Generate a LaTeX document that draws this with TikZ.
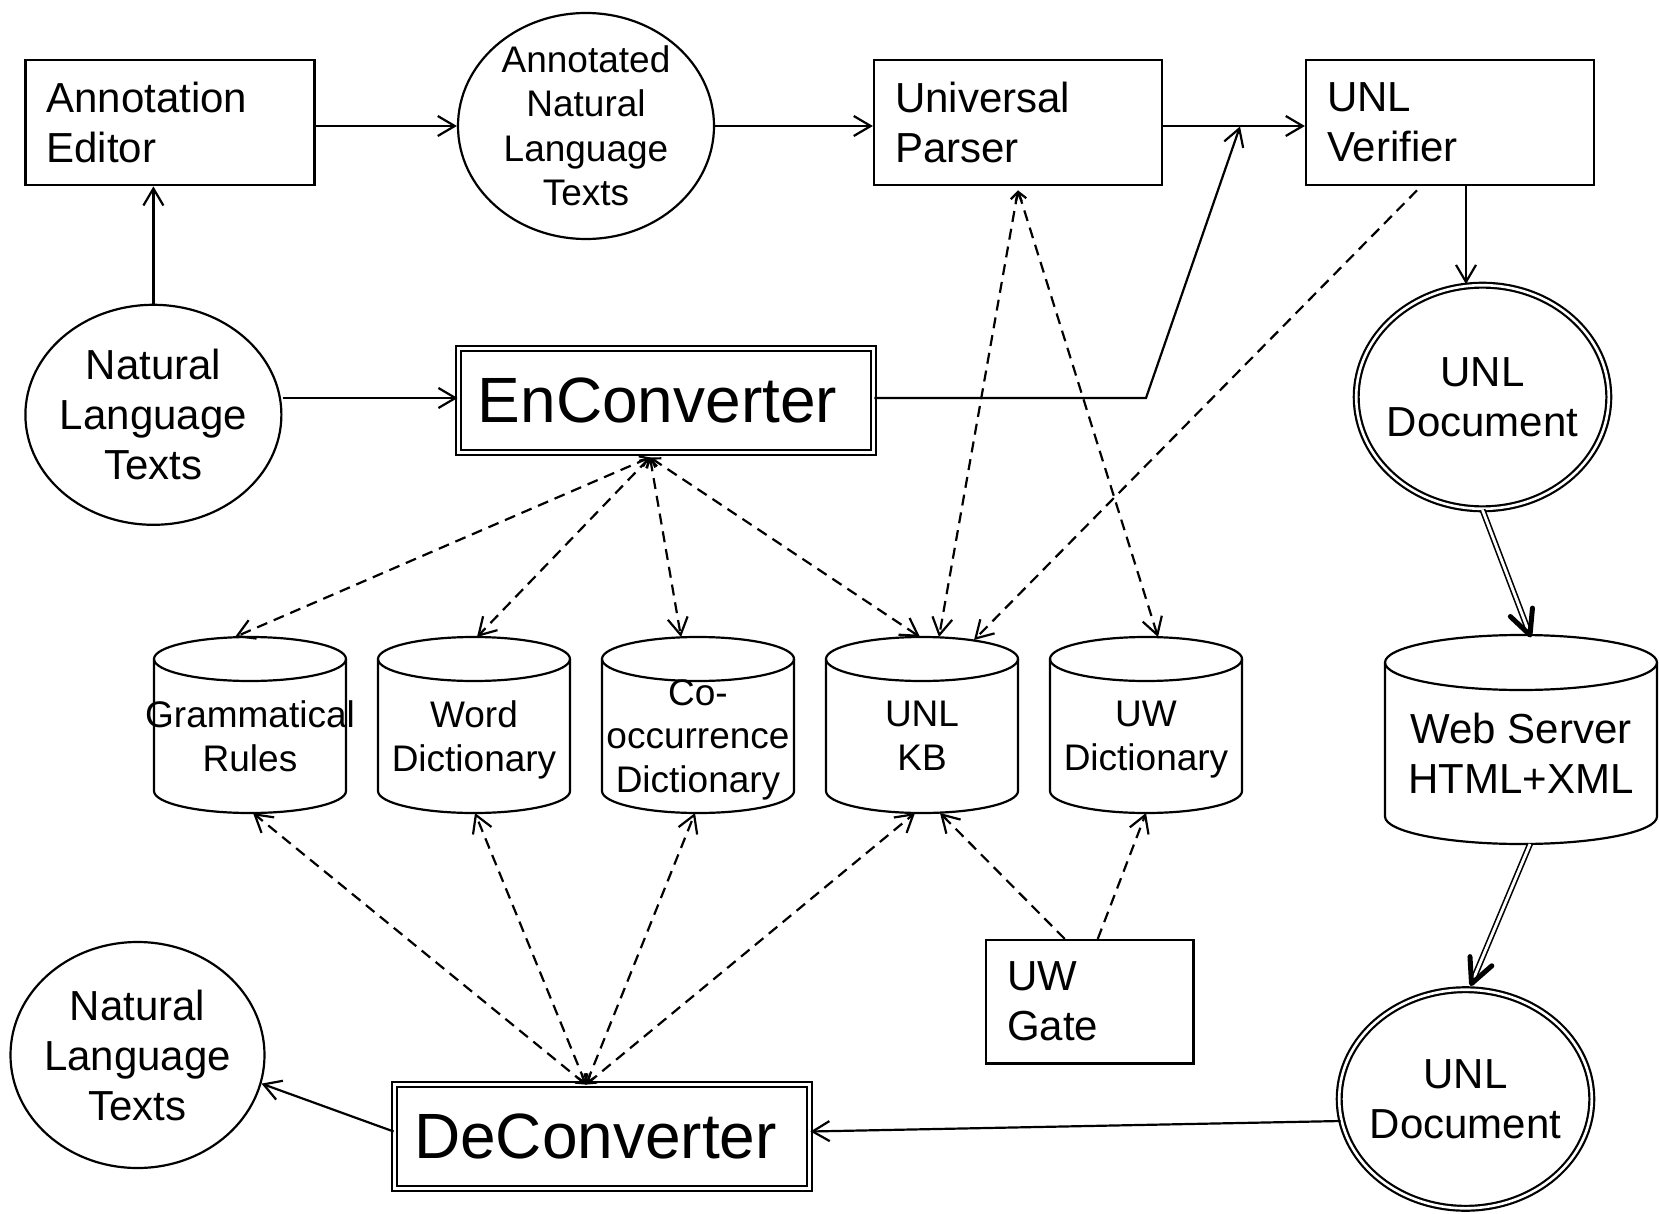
\documentclass[tikz,border=0pt]{standalone}
\usepackage{fontspec}
\setmainfont{Liberation Sans}
\usetikzlibrary{arrows.meta,calc,shapes.geometric}
\newcommand\fsz[2]{\fontsize{#1}{#2}\selectfont}
% cylinder outline drawn around a body node: #1 name, #2 x radius, #3 y radius
\newcommand\cylout[3]{%
  \draw[ln] (#1.north) ellipse[x radius=#2pt, y radius=#3pt];
  \draw[ln] (#1.north west) -- ([yshift=#3pt]#1.south west)
     arc[start angle=180, end angle=360, x radius=#2pt, y radius=#3pt]
     -- (#1.north east);
}
\tikzset{
  ln/.style={line width=2.2pt},
  bigbarb/.tip={Straight Barb[length=17pt,width=20pt]},
  smallbarb/.tip={Straight Barb[length=8pt,width=11pt]},
  arr/.style={ln, -bigbarb},
  dsh/.style={ln, dash pattern=on 11pt off 7pt},
  dda/.style={dsh, smallbarb-bigbarb},
  dsa/.style={dsh, -bigbarb},
  box/.style={draw, ln, rectangle, minimum height=125pt, inner xsep=21pt,
    inner ysep=0pt, align=left, font=\fsz{42}{50}},
  dbox/.style={draw, line width=2.2pt, double, double distance=3pt,
    minimum width=414.6pt, minimum height=103.6pt, inner sep=0pt,
    font=\fsz{64}{70}},
  ell/.style={draw, ln, ellipse, inner sep=-25pt, align=center,
    font=\fsz{42}{50}},
  dell/.style={ell, line width=2.2pt, double, double distance=2.6pt},
  cyl/.style={rectangle, inner xsep=-30pt, inner ysep=0pt, outer sep=0pt,
    minimum width=192pt, minimum height=154pt, align=center, text depth=0pt,
    font=\fsz{37}{43.5}},
  dbl/.style={line width=1.6pt, double, double distance=2.8pt},
  fat/.style={line width=5pt, line cap=round, line join=round},
}
\begin{document}
\begin{tikzpicture}[x=1pt,y=-1pt]
\fill[white] (0,0) rectangle (1659,1214);
\useasboundingbox (0,0) rectangle (1659,1214);

% boxes
\node[box, text width=247pt] (ae) at (170,122.75) {Annotation\\Editor};
\node[box, text width=246pt] (up) at (1018,122.75) {Universal\\Parser};
\node[box, text width=246pt] (uv) at (1450,122.75) {UNL\\Verifier};
\node[box, text width=165.5pt, minimum height=123.4pt] (gate) at (1089.75,1001.7) {UW\\Gate};

% ellipses
\node[ell, minimum width=256pt, minimum height=226pt, font=\fsz{37}{44.5}] (ann) at (586,126)
  {Annotated\\Natural\\Language\\Texts};
\node[ell, minimum width=256pt, minimum height=220pt] (nlt1) at (153.4,414.8)
  {Natural\\Language\\Texts};
\node[ell, minimum width=254pt, minimum height=226pt] (nlt2) at (137.5,1055)
  {Natural\\Language\\Texts};
\node[dell, minimum width=252.6pt, minimum height=223.6pt] (unl1) at (1482.5,397)
  {UNL\\Document};
\node[dell, minimum width=252.6pt, minimum height=218.6pt] (unl2) at (1465.5,1099)
  {UNL\\Document};

% converters
\node[dbox] (enc) at (666,400.5) {EnConverter\hspace*{17pt}};
\node[dbox] (dec) at (602,1136.5) {DeConverter\hspace*{13pt}};

% cylinders
\node[cyl] (gr) at (250,736) {Grammatical\\Rules};
\node[cyl] (wd) at (474,736) {Word\\Dictionary};
\node[cyl] (co) at (698,736) {Co-\\occurrence\\Dictionary};
\node[cyl] (kb) at (922,736) {UNL\\KB};
\node[cyl] (ud) at (1146,736) {UW\\Dictionary};
\node[cyl, minimum width=272pt, minimum height=181.5pt, font=\fsz{42}{50}] (web)
  at (1521,753.25) {Web Server\\HTML+XML};
\cylout{gr}{96}{22}
\cylout{wd}{96}{22}
\cylout{co}{96}{22}
\cylout{kb}{96}{22}
\cylout{ud}{96}{22}
\cylout{web}{136}{27.5}

% solid connectors
\draw[arr] (ae.east |- ann.center) -- (ann.west);
\draw[arr] (ann.east) -- (up.west |- ann.east);
\draw[arr] (up.east |- ann.east) -- (uv.west |- ann.east);
\draw[arr] (nlt1.north) -- (nlt1.north |- ae.south);
\draw[arr] ([yshift=2.5pt]enc.west -| nlt1.east) -- ([yshift=2.5pt]enc.west);
\coordinate (bend) at (1146,398);
\coordinate (junc) at (1240,126.5);
\draw[arr] ([yshift=2.5pt]enc.east) -- (bend) -- (junc);
\draw[arr] ([xshift=16pt]uv.south) -- ([xshift=16pt]uv.south |- unl1.north);
\draw[arr] (unl2.190) -- ([yshift=5pt]dec.east);
\draw[arr] ([yshift=5pt]dec.west) -- (nlt2.-13);

% double arrows
\coordinate (t1) at ([xshift=9pt,yshift=27.5pt]web.north);
\draw[dbl, shorten >=3pt] (unl1.south) -- (t1);
\draw[fat] ($(t1)!27pt!26:(unl1.south)$) -- (t1) -- ($(t1)!27pt!-26:(unl1.south)$);
\coordinate (w0) at ([xshift=9pt]web.south);
\coordinate (t2) at ([xshift=6pt,yshift=5pt]unl2.north);
\draw[dbl, shorten >=3pt] (w0) -- (t2);
\draw[fat] ($(t2)!27pt!26:(w0)$) -- (t2) -- ($(t2)!27pt!-26:(w0)$);

% dashed connectors from EnConverter
\coordinate (e0) at ([xshift=-16pt,yshift=-4pt]enc.south);
\draw[dda] (e0) -- ([xshift=-15pt,yshift=22pt]gr.north);
\draw[dda] (e0) -- ([xshift=3pt,yshift=22pt]wd.north);
\draw[dda] (e0) -- ([xshift=-17pt,yshift=22pt]co.north);
\draw[dda] (e0) -- ([xshift=-2pt,yshift=22pt]kb.north);
% from Universal Parser
\coordinate (u0) at ([yshift=-4pt]up.south);
\draw[dda] (u0) -- ([xshift=17pt,yshift=22pt]kb.north);
\draw[dda] (u0) -- ([xshift=12pt,yshift=22pt]ud.north);
% from UNL Verifier
\draw[dsa] ([xshift=-33pt,yshift=-4pt]uv.south) -- ([xshift=52pt,yshift=19pt]kb.north);
% from DeConverter
\coordinate (d0) at ([xshift=-16pt,yshift=-1pt]dec.north);
\draw[dda] (d0) -- ([xshift=3pt]gr.south);
\draw[dda] (d0) -- ([xshift=1pt]wd.south);
\draw[dda] (d0) -- ([xshift=-3pt]co.south);
\draw[dda] (d0) -- ([xshift=-7pt]kb.south);
% from UW Gate
\draw[dsa] ([xshift=-25pt]gate.north) -- ([xshift=18pt]kb.south);
\draw[dsa] ([xshift=8pt]gate.north) -- (ud.south);
\end{tikzpicture}
\end{document}
